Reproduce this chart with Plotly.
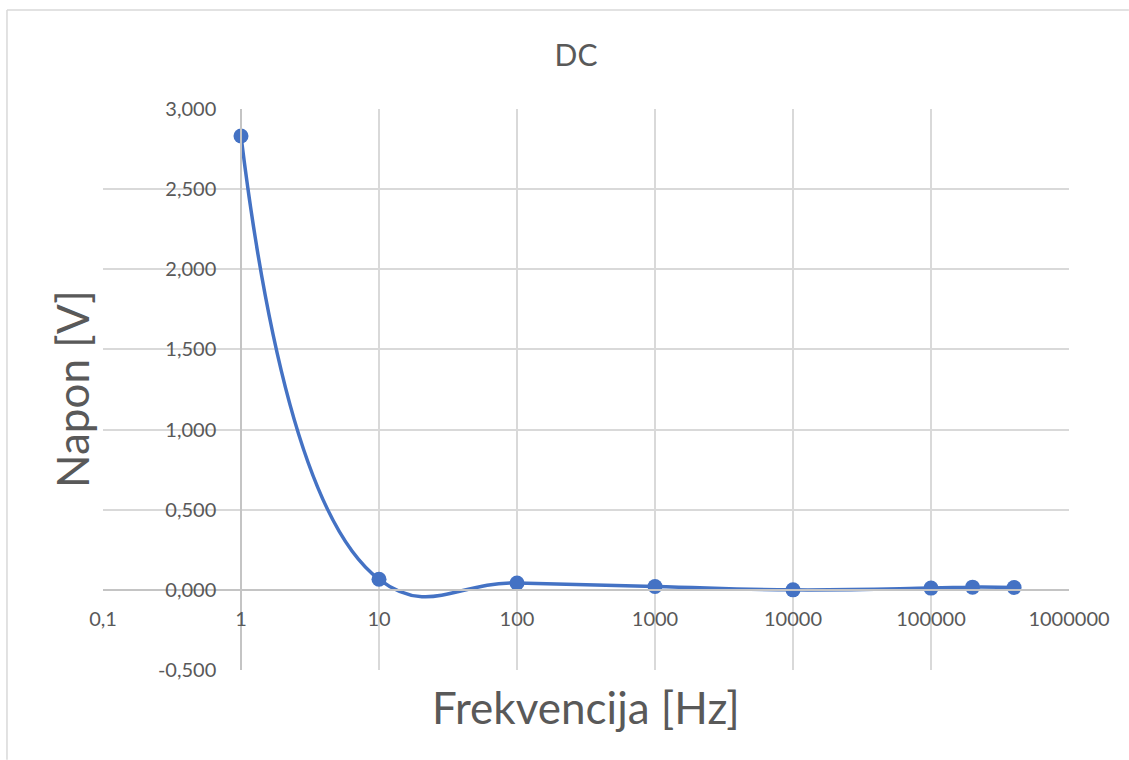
import plotly.graph_objects as go

# Measured DC voltage versus frequency
freq_hz = [1, 10, 100, 1000, 10000, 100000, 200000, 400000]
voltage_v = [2.832, 0.066, 0.043, 0.021, 0.0, 0.011, 0.017, 0.015]

x_tick_vals = [0.1, 1, 10, 100, 1000, 10000, 100000, 1000000]
x_tick_text = ["0,1", "1", "10", "100", "1000", "10000", "100000", "1000000"]
y_tick_vals = [-0.5, 0, 0.5, 1.0, 1.5, 2.0, 2.5, 3.0]
y_tick_text = ["-0,500", "0,000", "0,500", "1,000", "1,500", "2,000", "2,500", "3,000"]

FONT = "Lato"
TEXT_GREY = "#595959"
GRID = "#d9d9d9"
AXIS = "#c4c4c4"
BLUE = "#4472C4"

x_log_min, x_log_max = -1, 6
y_min, y_max = -0.5, 3.0

# axes cross at x = 1 and y = 0
x_axis_pos = (0 - y_min) / (y_max - y_min)
y_axis_pos = (0 - x_log_min) / (x_log_max - x_log_min)

fig = go.Figure(
    go.Scatter(
        x=freq_hz,
        y=voltage_v,
        mode="lines+markers",
        line=dict(color=BLUE, width=3.5, shape="spline", smoothing=1.3),
        marker=dict(color=BLUE, size=15),
        cliponaxis=False,
    )
)

fig.update_layout(
    width=1129,
    height=760,
    margin=dict(l=103, r=60, t=109, b=90),
    paper_bgcolor="white",
    plot_bgcolor="white",
    showlegend=False,
    font=dict(family=FONT, color=TEXT_GREY, size=20),
    title=dict(
        text="DC",
        x=576 / 1129,
        xanchor="center",
        y=1 - 55 / 760,
        yanchor="middle",
        font=dict(family=FONT, size=30, color=TEXT_GREY),
    ),
    xaxis=dict(
        type="log",
        range=[x_log_min, x_log_max],
        tickvals=x_tick_vals,
        ticktext=x_tick_text,
        showgrid=True,
        gridcolor=GRID,
        gridwidth=1.5,
        zeroline=False,
        showline=True,
        linecolor=AXIS,
        linewidth=1.5,
        anchor="free",
        position=x_axis_pos,
        ticks="",
        ticklabelstandoff=11,
        tickfont=dict(family=FONT, size=20, color=TEXT_GREY),
    ),
    yaxis=dict(
        range=[y_min, y_max],
        tickvals=y_tick_vals,
        ticktext=y_tick_text,
        showgrid=True,
        gridcolor=GRID,
        gridwidth=1.5,
        zeroline=False,
        showline=True,
        linecolor=AXIS,
        linewidth=1.5,
        anchor="free",
        position=y_axis_pos,
        ticks="",
        ticklabelstandoff=20,
        tickfont=dict(family=FONT, size=20, color=TEXT_GREY),
    ),
    annotations=[
        dict(
            text="Frekvencija [Hz]",
            xref="paper", yref="paper",
            x=0.5, y=-0.066,
            xanchor="center", yanchor="middle",
            showarrow=False,
            font=dict(family=FONT, size=44, color=TEXT_GREY),
        ),
        dict(
            text="Napon [V]",
            xref="paper", yref="paper",
            x=-0.032, y=0.501,
            xanchor="center", yanchor="middle",
            textangle=-90,
            showarrow=False,
            font=dict(family=FONT, size=44, color=TEXT_GREY),
        ),
    ],
    shapes=[
        # outer chart border (top and left edges), kept inside the figure
        dict(
            type="line", xref="paper", yref="paper",
            x0=-0.0994, x1=1.062, y0=1.1765, y1=1.1765,
            line=dict(color=GRID, width=1.5), layer="below",
        ),
        dict(
            type="line", xref="paper", yref="paper",
            x0=-0.0994, x1=-0.0994, y0=-0.16, y1=1.1765,
            line=dict(color=GRID, width=1.5), layer="below",
        ),
    ],
)

# keep the page exactly the size of the figure
page_css = (
    "document.documentElement.style.overflow='hidden';"
    "document.body.style.margin='0';"
    "document.body.style.overflow='hidden';"
)

fig.write_html("out.html", post_script=page_css)
